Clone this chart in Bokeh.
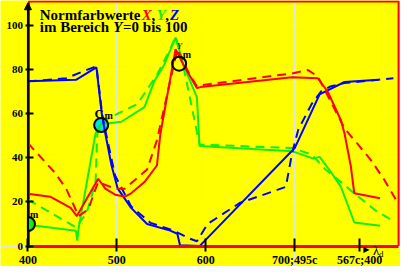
import math
from bokeh.plotting import figure
from bokeh.embed import file_html
from bokeh.resources import INLINE
from bokeh.models import Label, Arrow, NormalHead, FixedTicker, Range1d, LinearAxis

# ---- data (wavelength-like axis, values 0..100) ----
x_solid_lam = [400, 425, 448, 455, 479, 487, 498, 509, 516, 531, 545, 549, 566, 575, 590, 594, 697, 726, 737, 752, 756, 763, 767, 796]
x_solid_val = [23.7, 22.4, 17.3, 13.6, 30.5, 26.0, 23.3, 22.4, 23.9, 29.0, 36.5, 51.0, 89.2, 82.0, 71.6, 72.0, 76.5, 76.0, 70.0, 57.0, 51.0, 36.4, 23.9, 21.7]

x_dash_lam = [400, 430, 443, 457, 468, 474, 479, 487, 498, 509, 534, 545, 568, 582, 590, 594, 697, 715, 726, 756, 770, 785, 800, 815]
x_dash_val = [46.6, 33.4, 26.0, 13.6, 16.7, 23.7, 29.0, 27.7, 26.0, 26.0, 34.7, 47.9, 89.2, 77.5, 72.4, 72.8, 78.2, 79.7, 76.8, 53.3, 46.6, 39.3, 30.5, 20.2]

y_solid_lam = [400, 454, 455.5, 457, 476, 483, 490, 505, 531, 542, 553, 566, 575, 590, 593, 697, 721, 728, 741, 752, 767, 796]
y_solid_val = [9.7, 7.0, 2.5, 8.0, 51.0, 56.0, 55.5, 56.3, 62.9, 74.6, 81.9, 94.4, 81.9, 67.3, 45.3, 43.0, 39.6, 40.4, 33.4, 26.8, 10.7, 9.2]

y_dash_lam = [400, 454, 466, 476, 478, 490, 501, 523, 545, 560, 566, 573, 593, 697, 719, 734, 752, 767, 792, 811]
y_dash_val = [21.0, 8.5, 15.0, 29.0, 51.0, 57.7, 60.0, 64.3, 77.5, 89.2, 95.0, 84.8, 46.0, 44.4, 41.5, 34.9, 29.0, 23.9, 15.8, 11.4]

z_solid_lam = [400, 454, 477, 483, 487, 494, 501, 516, 534, 560, 568, 571, 593, 700, 728, 756, 794]
z_solid_val = [74.6, 75.3, 80.9, 60.0, 51.0, 36.5, 26.0, 17.3, 10.0, 7.0, 5.6, 0.4, 0.0, 44.4, 68.7, 74.3, 75.3]

z_dash_lam = [400, 443, 477, 484, 498, 516, 538, 564, 582, 590, 602, 638, 690, 697, 704, 719, 730, 741, 756, 794, 811]
z_dash_val = [74.6, 76.0, 81.5, 58.0, 32.0, 18.0, 10.5, 7.0, 3.4, 2.2, 10.0, 19.5, 26.8, 42.0, 52.7, 64.3, 70.2, 72.4, 73.8, 75.3, 76.0]

# marked points: Cm (cyan) and Ym (ring); the third one sits on the left edge
point_lam = [482.3, 570]
point_val = [54.8, 82.6]
point_fill = ["#00e0e8", None]
edge_lam = [400]
edge_val = [10.0]

x_ticks = [400, 500, 600, 700, 773]
x_tick_labels = ["400", "500", "600", "700;495c", "567c;400"]
y_ticks = [0, 20, 40, 60, 80, 100]

X_MIN, X_MAX = 400, 816.8
Y_MIN, Y_MAX = 0, 110.8

RED = "#ff0000"
GREEN = "#11ee11"
BLUE = "#0000ff"
SERIF = "Liberation Serif"


def rx(px):
    return 400 + (px - 28) / 0.907


def ry(py):
    return (253 - py) / 2.275


p = figure(width=400, height=266, output_backend="svg", toolbar_location=None,
           x_range=Range1d(rx(0), rx(408)), y_range=Range1d(ry(274), ry(0)),
           x_axis_location=None, y_axis_location=None, min_border=0)
p.background_fill_color = "#ffff00"
p.border_fill_color = "#ffff00"
p.outline_line_color = None

# red frame (left, top, right)
p.line([X_MIN + 1.2, X_MIN + 1.2, X_MAX, X_MAX], [Y_MIN, Y_MAX, Y_MAX, Y_MIN],
       line_color=RED, line_width=2)

# axes fixed at the origin, inside the (full-canvas) frame
xaxis = LinearAxis(fixed_location=0, bounds=(X_MIN - 0.1, X_MAX),
                   ticker=FixedTicker(ticks=x_ticks),
                   major_label_overrides={t: l for t, l in zip(x_ticks, x_tick_labels)},
                   axis_line_color=RED, axis_line_width=3,
                   major_tick_line_color="black", major_tick_line_width=2,
                   major_tick_in=8, major_tick_out=5, minor_tick_line_color=None,
                   major_label_standoff=2, major_label_text_font=SERIF,
                   major_label_text_font_style="bold", major_label_text_font_size="12px",
                   major_label_text_color="black")
p.add_layout(xaxis, "below")

yaxis = LinearAxis(fixed_location=400, bounds=(Y_MIN, 108),
                   ticker=FixedTicker(ticks=y_ticks),
                   axis_line_color=None,
                   major_tick_line_color="black", major_tick_line_width=2,
                   major_tick_in=6, major_tick_out=2, minor_tick_line_color=None,
                   major_label_standoff=3, major_label_text_font=SERIF,
                   major_label_text_font_style="bold", major_label_text_font_size="11px",
                   major_label_text_color="black")
p.add_layout(yaxis, "left")

# circle fills (below lines)
p.scatter(point_lam[:1], point_val[:1], marker="circle", size=14,
          fill_color=point_fill[:1], line_color=None)
p.wedge(x=edge_lam, y=edge_val, radius=7, radius_units="screen",
        start_angle=-math.pi / 2, end_angle=math.pi / 2,
        fill_color=GREEN, line_color=None)

# curves
p.line(y_solid_lam, y_solid_val, line_color=GREEN, line_width=2)
p.line(y_dash_lam, y_dash_val, line_color=GREEN, line_width=2, line_dash="9 6")
p.line(z_solid_lam, z_solid_val, line_color=BLUE, line_width=2)
p.line(z_dash_lam, z_dash_val, line_color=BLUE, line_width=2, line_dash="9 6")
p.line(x_solid_lam, x_solid_val, line_color=RED, line_width=2)
p.line(x_dash_lam, x_dash_val, line_color=RED, line_width=2, line_dash="9 6")

# circle rings (on top)
p.scatter(point_lam, point_val, marker="circle", size=14,
          fill_color=None, line_color="black", line_width=2)
p.wedge(x=edge_lam, y=edge_val, radius=7, radius_units="screen",
        start_angle=-math.pi / 2, end_angle=math.pi / 2,
        fill_color=None, line_color="black", line_width=2)

# y-axis line with arrow head
p.add_layout(Arrow(end=NormalHead(size=7, fill_color="black", line_color="black"),
                   x_start=400, y_start=0, x_end=400, y_end=110.2,
                   line_color="black", line_width=2))


def lab(text, px, py, size, color="black", style="bold", font=SERIF):
    p.add_layout(Label(x=rx(px), y=ry(py), text=text, text_font=font,
                       text_font_size=size, text_font_style=style, text_color=color,
                       text_baseline="alphabetic", text_align="left"))


# title
lab("Normfarbwerte", 40, 15, "15px")
lab("X", 144, 15, "15px", RED, "bold italic")
lab(",", 154, 15, "15px")
lab("Y", 159, 15, "15px", GREEN, "bold italic")
lab(",", 168, 15, "15px")
lab("Z", 173, 15, "15px", BLUE, "bold italic")
lab("im Bereich", 40, 27, "15px")
lab("Y", 115, 27, "15px", "black", "bold italic")
lab("=0 bis 100", 125, 27, "15px")

# point labels
lab("C", 96, 116, "13px")
lab("m", 106, 118, "10px")
lab("Y", 180, 47, "9px", "black", "italic")
lab("m", 186, 56, "10px")
lab("m", 30, 220, "10px")

# lambda_d at the end of the x axis
lab("\u25B6", 370, 257, "8px", "black", "normal", "DejaVu Sans")
lab("\u03BB", 380, 258, "13px", "black", "normal")
lab("d", 386, 261, "9px", "black", "normal")

open("out.html", "w").write(file_html(p, INLINE))
